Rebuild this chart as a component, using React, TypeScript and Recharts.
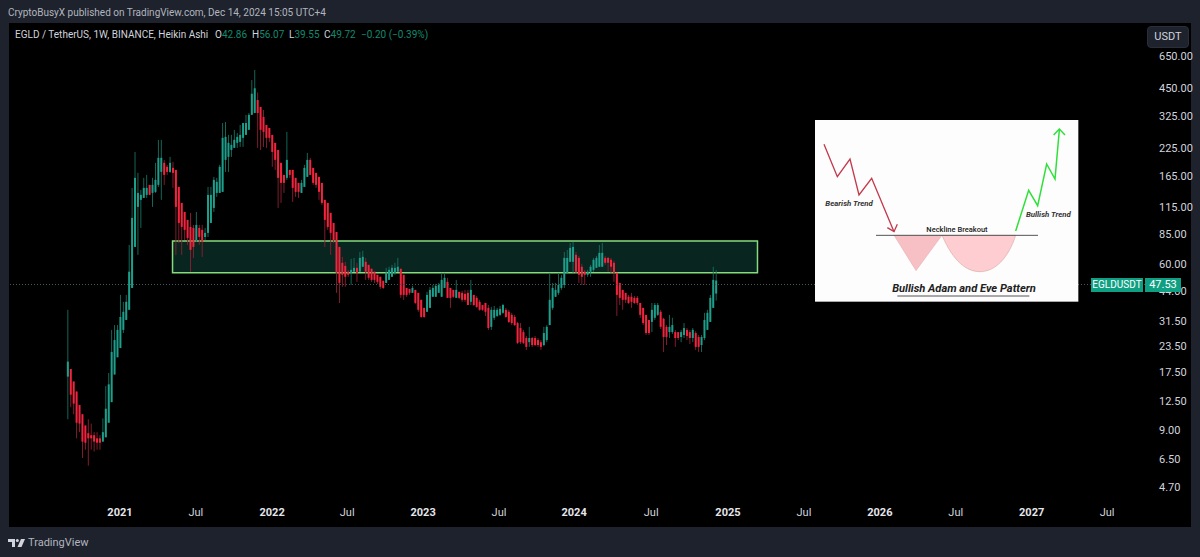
import React from 'react';
import { ComposedChart, Bar, XAxis, YAxis, ReferenceArea, ReferenceLine } from 'recharts';

const opens = [
16.6,18.1,15.7,14,12,10.8,9.5,8.7,8.5,8.5,
8.2,8.2,7.9,8.3,9.8,12.4,17,20.7,23,28.3,
31.7,35.6,45.7,73,115.3,125,127.8,132.3,148.3,135.3,
136.9,148.3,172,190.7,182.2,172,180.1,176,144.9,120.7,
108.9,99.4,91.7,90.7,79,90.7,88.7,81.8,85.7,96,
114,135.3,135.3,136.9,197.3,204.2,221,226.3,239.6,242.3,
253.7,262.5,278,330,337,391,361,322,294,284,
262.5,239.6,221,190.7,166.2,160.7,176,176,160.7,151.7,
135.3,144.9,162.5,197.3,180.1,170.1,162.5,151.7,125,120.7,
107.7,96,86.6,73,60.9,58.8,55,54.3,55,57.5,
55,58.2,61.6,59.5,56.9,55,53.1,51.9,49.6,48.4,
50.1,51.9,54.3,55,56.9,53.1,45.7,45.2,43.2,44.7,
43.2,39.9,36.4,34.8,36.4,41.3,41.3,43.2,41.3,45.7,
49,45.7,44.7,40.8,43.7,43.2,42.7,43.2,39,42.2,
40.8,39,37.6,38.5,36.4,29.3,32.5,33.2,33.6,34.4,
35.6,34.8,33.6,32.8,30.6,28.9,27.6,25.8,24.6,25.8,
25.8,25.2,24.6,23.8,25.2,29.9,36.4,41.3,43.2,45.7,
47.3,54.3,61.6,61.6,66.7,64.4,58.2,55,53.1,55,
56.2,57.5,58.2,58.2,64.4,64.4,63,60.9,54.3,48.4,
44.7,43.2,41.3,41.3,40.8,40.8,38.5,36.4,33.6,31.7,
31,32.5,33.6,34.8,32.1,29.3,27.6,27.6,27.6,27.6,
26.1,26.7,28.3,27.6,25.8,27.3,26.1,23.8,25.8,28.3,
31,36.4,42.86];

const highs = [
35.6,18.1,15.7,14,12,10.8,9.5,10.2,9.7,8.8,
8.8,8.5,10.3,14.9,17.3,28.3,29.9,29.9,42.2,39,
42.2,74.7,143.3,216,170.1,140,160.7,166.2,148.3,160.7,
190.7,248,248,197.3,186.4,204.2,192.9,176,144.9,120.7,
108.9,99.4,107.7,93.9,108.9,93.9,93.9,90.7,144.9,144.9,
162.5,160.7,186.4,300.6,304,262.5,262.5,278,268.6,294,
300.6,330,337,491,551,426,361,349,294,284,
262.5,239.6,221,190.7,166.2,271.7,176,176,160.7,151.7,
157,186.4,213.7,201.9,180.1,170.1,162.5,151.7,125,120.7,
107.7,96,86.6,73,65.2,61.6,56.2,63.7,64.4,60.9,
69,69.8,64.4,59.5,56.9,55,53.1,51.9,49.6,57.5,
58.2,59.5,60.9,64.4,56.9,53.1,45.7,45.2,46.8,44.7,
43.2,39.9,36.4,43.7,46.3,47.3,47.9,48.4,54.3,54.3,
51.3,45.7,44.7,50.1,43.7,44.2,44.7,44.7,50.1,42.2,
41.7,39.9,37.6,38.5,37.6,36.8,37.2,36.4,37.2,38.1,
36.4,35.6,34.4,33.6,31,30.6,28.3,26.4,29.3,26.1,
26.4,25.8,25.2,29.3,29.9,54.3,48.4,48.4,54.3,53.1,
69,70.6,76.4,77.3,69,65.9,60.2,56.2,56.2,59.5,
64.4,65.9,74.7,76.4,65.9,65.2,64.4,62.3,54.3,48.4,
44.7,43.2,42.2,43.2,41.7,41.7,38.5,36.4,33.6,31.7,
38.5,38.5,38.5,35.6,32.5,29.9,33.6,32.5,28.3,27.6,
28.3,30.6,28.9,28.3,28.9,27.9,26.7,26.7,34.4,35.6,
42.2,58.2,56.07];

const lows = [
10.2,11.7,10.8,8.2,8.8,6.55,7.2,6,7.2,7.05,
7.2,7.2,7.9,8.3,9.8,12.4,17,20.7,23,27.3,
31.7,35.6,45.7,73,66.7,90.7,127.8,127.8,132.3,115.3,
135.3,144.9,125,148.3,166.2,170.1,143.3,66.7,76.4,66.7,
79,74.7,55,64.4,77.3,74.7,65.2,79,81.8,96,
108.9,129.3,135.3,136.9,172,172,204.2,226.3,226.3,228.9,
228.9,262.5,278,330,337,226.3,221,228.9,226.3,242.3,
182.2,176,114,120.7,135.3,157,160.7,122.1,129.3,127.8,
135.3,144.9,162.5,166.2,148.3,143.3,125,118,73,88.7,
66.7,76.4,43.2,38.5,46.3,46.3,51.9,47.3,55,49,
55,58.2,50.1,50.1,49,48.4,47.9,45.2,45.2,48.4,
50.1,51.9,53.1,55,40.8,39.9,41.3,42.2,43.2,38.1,
34.8,32.5,32.5,34.8,36.4,41.3,41.3,43.2,41.3,45.7,
40.8,36.4,40.8,40.8,40.3,39,39,37.6,37.6,37.2,
36.4,35.2,35.2,33.2,28.3,28.3,31.7,32.8,33.2,34,
32.5,30.6,29.9,29.6,24.1,24.1,24.1,22.5,23.3,23.3,
23.5,23.3,22.5,23.5,24.6,29.9,35.6,41.3,42.2,44.7,
45.7,54.3,61.6,54.3,53.7,48.4,47.3,47.3,51.9,51.9,
55,57.5,58.2,58.2,59.5,55,54.3,49,33.2,37.6,
35.6,38.5,38.1,36.4,38.1,37.6,32.5,29.9,26.7,26.7,
27.6,31.7,33.2,28.6,22,23.8,25.8,27,23.3,25.2,
24.6,25.8,25.2,24.1,24.6,22.5,22,22,25.2,28.3,
31,36.4,39.55];

const closes = [
19.7,13.5,12.2,9.8,9.7,7.9,7.8,8.2,8.2,7.9,
7.8,7.8,8.8,11.5,15.2,22,25.2,28.3,32.8,34.8,
39,55,101.7,160.7,135.3,132.3,143.3,143.3,132.3,148.3,
157,201.9,201.9,166.2,172,190.7,170.1,115.3,96,91.7,
88.7,80.9,70.6,73,93.9,81.8,77.3,85.7,132.3,132.3,
157,153.5,182.2,253.7,256.6,239.6,234.2,248,256.6,262.5,
300.6,300.6,330,420,447,337,278,271.7,253.7,253.7,
216,197.3,160.7,151.7,151.7,197.3,166.2,143.3,136.9,136.9,
151.7,180.1,197.3,166.2,151.7,148.3,136.9,120.7,99.4,91.7,
85.7,79,54.3,48.4,53.1,51.9,53.1,56.2,57.5,54.3,
64.4,65.2,55,51.3,50.1,50.1,49,46.3,45.7,54.3,
56.2,57.5,57.5,58.2,42.2,42.2,42.2,43.2,45.7,38.5,
35.6,32.8,32.8,42.2,44.7,45.7,46.8,47.3,50.1,51.3,
40.8,40.8,41.3,44.7,40.8,39.9,39.9,37.6,44.7,37.6,
36.8,35.6,35.6,34.8,28.9,35.6,35.6,35.6,36,37.6,
32.8,31,30.6,29.9,24.4,24.6,24.4,23.3,25.8,23.8,
23.8,23.8,23.3,27.3,29.3,39.9,45.7,44.7,47.3,51.3,
64.4,64.4,72.2,73,55,53.1,51.9,53.1,55,58.2,
63,64.4,68.2,68.2,60.9,60.9,58.2,54.3,42.2,40.8,
39.9,39.9,38.5,39,38.5,38.5,33.6,30.6,27.3,27.3,
35.6,37.6,37.6,29.3,26.1,26.1,29.3,29.9,25.8,25.8,
27.6,28.9,26.4,25.8,28.3,23.3,23.3,26.1,31.7,34.4,
40.8,50.1,49.72];

const priceTicks = [650, 450, 325, 225, 165, 115, 85, 60, 44, 31.5, 23.5, 17.5, 12.5, 9, 6.5, 4.7];
const timeTicks = [17.8, 43.8, 69.9, 95.6, 121.6, 147.6, 173.3, 199.7, 226, 252, 278, 304, 330, 355.8];
const timeLabels = ['2021', 'Jul', '2022', 'Jul', '2023', 'Jul', '2024', 'Jul', '2025', 'Jul', '2026', 'Jul', '2027', 'Jul'];
const zoneWeeks = [35.8, 236.1];
const zonePrices = [54.3, 78.2];
const lastPrice = 47.53;

const rows = opens.map((o, i) => ({ week: i, o, h: highs[i], l: lows[i], c: closes[i], range: [lows[i], highs[i]] }));

const FONT = 'Roboto, "Noto Sans", sans-serif';
const TEAL = '#1d9f8c';
const RED = '#f3243d';
const TEXT = '#d1d4dc';

function Candle(props: any) {
  const { x, y, width, height, payload } = props;
  const top = Math.min(y, y + height);
  const h = Math.abs(height);
  const { o, c, h: hi, l: lo } = payload;
  const span = Math.log(hi / lo) || 1;
  const up = c >= o;
  const bodyTop = top + (h * Math.log(hi / Math.max(o, c))) / span;
  const bodyBot = top + (h * Math.log(hi / Math.min(o, c))) / span;
  const cx = x + width / 2;
  return (
    <g>
      <rect x={cx - 0.45} y={top} width={0.9} height={h} fill={up ? '#16705f' : '#8e1f30'} />
      <rect x={cx - 1} y={bodyTop} width={2} height={Math.max(1, bodyBot - bodyTop)} fill={up ? TEAL : RED} />
    </g>
  );
}

function TimeTick(props: any) {
  const { x, y, payload } = props;
  const label = timeLabels[timeTicks.indexOf(payload.value)];
  const isYear = label !== 'Jul';
  return (
    <text x={x} y={y} textAnchor="middle" fill={isYear ? '#e4e6ec' : TEXT} fontFamily={FONT} fontSize={11} fontWeight={isYear ? 700 : 400} dy={11}>
      {label}
    </text>
  );
}

function PriceTick(props: any) {
  const { x, y, payload } = props;
  return (
    <text x={x + 6} y={y + 4} fill={TEXT} fontFamily={FONT} fontSize={11}>
      {payload.value.toFixed(2)}
    </text>
  );
}

function Inset() {
  return (
    <svg viewBox="0 0 825 570" width={275} height={190} style={{ position: 'absolute', left: 810, top: 115 }}>
      <rect x={15} y={15} width={790} height={545} fill="#fdfdfd" />
      <polyline points="42,88 82,185 120,132 147,240 185,190 252,350" fill="none" stroke="#c23a4c" strokeWidth={4} />
      <polyline points="232,338 252,350 262,328" fill="none" stroke="#c23a4c" strokeWidth={4} />
      <path d="M252 361 L318 467 L396 361 Z" fill="#f6c0c4" stroke="#d99" strokeWidth={1} />
      <path d="M396 361 C430 440 470 470 510 470 C555 470 595 430 617 361 Z" fill="#fdcdd1" stroke="#c98" strokeWidth={1.5} />
      <line x1={198} y1={361} x2={684} y2={361} stroke="#555" strokeWidth={3} />
      <polyline points="617,348 656,226 683,272 710,147 735,192 748,45" fill="none" stroke="#2fe03a" strokeWidth={4.5} />
      <polyline points="731,60 748,42 765,60" fill="none" stroke="#2fe03a" strokeWidth={4.5} />
      <text x={46} y={274} fontFamily={FONT} fontSize={23.5} fontStyle="italic" fontWeight={700} fill="#333">Bearish Trend</text>
      <text x={648} y={305} fontFamily={FONT} fontSize={23.5} fontStyle="italic" fontWeight={700} fill="#333">Bullish Trend</text>
      <text x={441} y={352} textAnchor="middle" fontFamily={FONT} fontSize={22.5} fontWeight={500} fill="#222">Neckline Breakout</text>
      <text x={462} y={530} textAnchor="middle" fontFamily={FONT} fontSize={33.5} fontStyle="italic" fontWeight={700} fill="#222">Bullish Adam and Eve Pattern</text>
      <line x1={262} y1={543} x2={658} y2={543} stroke="#555" strokeWidth={3} />
    </svg>
  );
}

export default function App() {
  const abs: React.CSSProperties = { position: 'absolute', fontFamily: FONT, whiteSpace: 'nowrap' };
  const num: React.CSSProperties = { color: '#12896f' };
  return (
    <div style={{ position: 'absolute', left: 0, top: 0, width: 1200, height: 557, background: '#1e222d', overflow: 'hidden' }}>
      <div style={{ ...abs, left: 8, top: 7, fontSize: 10, color: '#b2b5be' }}>CryptoBusyX published on TradingView.com, Dec 14, 2024 15:05 UTC+4</div>
      <div style={{ position: 'absolute', left: 9, top: 23, width: 1182, height: 504, background: '#000' }} />
      <div style={{ position: 'absolute', left: 0, top: 0 }}>
        <ComposedChart width={1200} height={557} data={rows} margin={{ top: 22, left: 9, right: 9, bottom: 30 }}>
          <XAxis dataKey="week" type="number" domain={[-20.2, 368.8]} ticks={timeTicks} interval={0} allowDataOverflow tick={<TimeTick />} tickLine={false} axisLine={false} height={30} />
          <YAxis orientation="right" width={46} scale="log" domain={[4.196, 953]} ticks={priceTicks} interval={0} allowDataOverflow tick={<PriceTick />} tickLine={false} axisLine={false} />
          <ReferenceArea x1={zoneWeeks[0]} x2={zoneWeeks[1]} y1={zonePrices[0]} y2={zonePrices[1]} fill="#0f4a40" fillOpacity={0.5} stroke="#86dc7c" strokeWidth={1.5} ifOverflow="visible" />
          <ReferenceLine y={lastPrice} stroke="#4a5a58" strokeDasharray="1 2" />
          <Bar dataKey="range" barSize={3} shape={<Candle />} isAnimationActive={false} />
        </ComposedChart>
      </div>
      <div style={{ ...abs, left: 15, top: 29, fontSize: 10, color: TEXT }}>EGLD / TetherUS, 1W, BINANCE, Heikin Ashi</div>
      <div style={{ ...abs, left: 215, top: 29, fontSize: 10, color: TEXT }}>O<span style={num}>42.86</span></div>
      <div style={{ ...abs, left: 252, top: 29, fontSize: 10, color: TEXT }}>H<span style={num}>56.07</span></div>
      <div style={{ ...abs, left: 289, top: 29, fontSize: 10, color: TEXT }}>L<span style={num}>39.55</span></div>
      <div style={{ ...abs, left: 324, top: 29, fontSize: 10, color: TEXT }}>C<span style={num}>49.72</span></div>
      <div style={{ ...abs, left: 361, top: 29, fontSize: 10, ...num }}>−0.20 (−0.39%)</div>
      <div style={{ ...abs, left: 1147, top: 26, width: 40, height: 20, lineHeight: '20px', textAlign: 'center', fontSize: 11, color: TEXT, background: '#1e222d', border: '1px solid #2a2e39', borderRadius: 4, boxSizing: 'content-box' }}>USDT</div>
      <Inset />
      <div style={{ ...abs, left: 1091, top: 278, width: 52, height: 14, lineHeight: '14px', textAlign: 'center', fontSize: 10, color: '#fff', background: '#0fa083' }}>EGLDUSDT</div>
      <div style={{ ...abs, left: 1145, top: 278, width: 36, height: 14, lineHeight: '14px', textAlign: 'center', fontSize: 11, color: '#fff', background: '#0fa083' }}>47.53</div>
      <svg width={20} height={12} viewBox="0 0 20 12" style={{ position: 'absolute', left: 7, top: 537 }}>
        <path d="M1 2 H8 V10 H5 V5 H1 Z" fill="#d1d4dc" />
        <circle cx={10.3} cy={3.5} r={1.5} fill="#d1d4dc" />
        <path d="M14 2 H18 L14.5 10 H10.5 Z" fill="#d1d4dc" />
      </svg>
      <div style={{ ...abs, left: 28, top: 536, fontSize: 11, color: '#b2b5be' }}>TradingView</div>
    </div>
  );
}
